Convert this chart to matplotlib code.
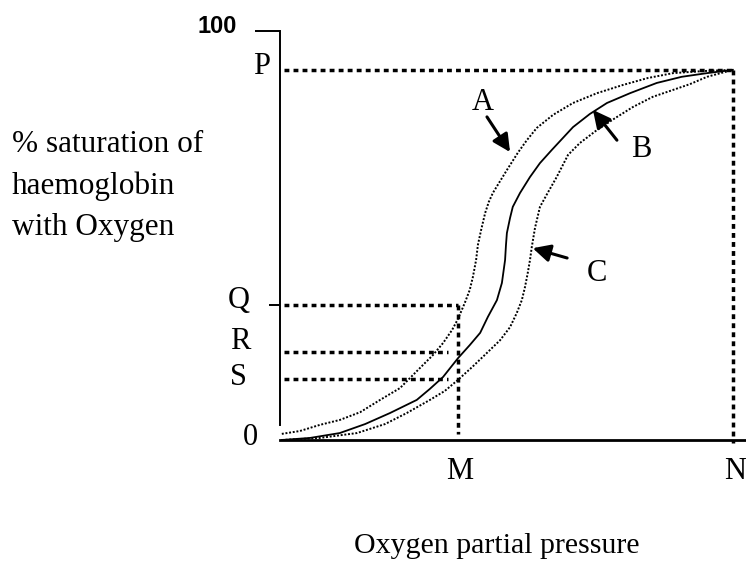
import matplotlib
matplotlib.use('Agg')
import matplotlib.pyplot as plt

# curve A (left shifted)
a_x = [0.4, 4.4, 8.8, 13.2, 17.7, 22.1, 26.5, 30.9, 33.8, 36.0, 38.0, 39.3, 40.8, 41.9, 42.6, 43.3, 43.7,
       44.4, 45.3, 46.1, 47.0, 48.6, 50.1, 52.5, 54.5, 56.7, 60.3, 64.7, 70.0, 75.7, 81.2, 86.8, 93.4, 100]
a_y = [1.5, 2.2, 3.7, 4.9, 6.8, 9.8, 12.7, 17.6, 20.8, 23.7, 26.9, 29.6, 33.5, 36.7, 39.9, 44.0, 47.7,
       51.3, 55.5, 58.2, 60.4, 63.3, 66.0, 70.2, 73.3, 76.3, 79.5, 82.4, 84.8, 86.8, 88.5, 89.7, 90.2, 90.5]

# curve B (normal)
b_x = [0.4, 6.6, 13.2, 18.8, 24.3, 30.2, 33.1, 36.0, 39.3, 41.9, 44.2, 45.9, 47.9, 49.0, 49.4, 49.7,
       49.9, 50.1, 50.8, 51.4, 53.0, 55.2, 57.4, 60.0, 64.7, 68.4, 72.2, 77.3, 83.2, 88.7, 94.3, 100]
b_y = [0.0, 0.5, 1.7, 3.9, 6.6, 9.8, 12.5, 15.4, 20.0, 23.2, 26.2, 30.1, 34.2, 38.4, 41.6, 44.0,
       47.7, 50.6, 54.3, 57.0, 60.4, 64.3, 67.7, 70.9, 76.5, 79.7, 82.4, 84.8, 87.3, 88.8, 89.7, 90.5]

# curve C (right shifted)
c_x = [0.4, 8.8, 17.0, 23.2, 28.0, 33.1, 36.4, 39.3, 42.4, 45.7, 48.6, 50.8, 52.3, 53.4, 54.1, 54.7,
       55.2, 55.6, 56.3, 57.4, 59.2, 61.1, 63.6, 66.2, 70.0, 74.0, 77.9, 82.3, 86.8, 90.5, 94.3, 100]
c_y = [0.0, 0.5, 1.7, 3.9, 6.6, 9.8, 12.0, 14.7, 17.8, 21.3, 24.4, 27.6, 31.1, 34.2, 37.4, 40.8,
       44.0, 47.2, 51.8, 57.0, 60.6, 64.3, 69.7, 72.6, 75.8, 78.7, 81.4, 83.9, 85.6, 87.0, 88.8, 90.5]

# reference levels
P = 90.5
Q = 33.0
R = 21.5
S = 14.9
M = 39.3
N = 100
RS_END = 37.1

serif = 'Liberation Serif'
fs = 22

fig = plt.figure(figsize=(7.46, 5.69), dpi=100)
ax = fig.add_axes([280/746, 129/569, 466/746, 409/569])
ax.set_xlim(0, 102.9)
ax.set_ylim(0, 100)

# axes look
ax.spines['top'].set_visible(False)
ax.spines['right'].set_visible(False)
ax.spines['left'].set_linewidth(1.4)
ax.spines['bottom'].set_linewidth(2.0)
ax.spines['left'].set_bounds(3.7, 100)
ax.set_xticks([])
ax.set_yticks([100])
ax.set_yticklabels([''])
ax.set_yticks([Q], minor=True)
ax.tick_params(axis='y', which='major', length=18, width=1.4, direction='out')
ax.tick_params(axis='y', which='minor', length=8, width=1.4, direction='out')

# thick dotted guide lines
thick = dict(color='black', lw=2.5, linestyle=(0, (1.4, 1.2)), dash_capstyle='butt', clip_on=False)
ax.plot([0.8, N], [P, P], **thick)
ax.plot([N, N], [P, -0.8], **thick)
ax.plot([0.8, M], [Q, Q], **thick)
ax.plot([M, M], [Q, 1.5], **thick)
ax.plot([0.8, RS_END], [R, R], **thick)
ax.plot([0.8, RS_END], [S, S], **thick)

# the three curves
fine = dict(color='black', lw=1.4, linestyle=(0, (1, 0.9)), solid_joinstyle='round')
ax.plot(a_x, a_y, **fine)
ax.plot(b_x, b_y, color='black', lw=1.3, solid_joinstyle='round')
ax.plot(c_x, c_y, **fine)

# arrows + curve labels
arr = dict(arrowstyle='-|>,head_length=0.7,head_width=0.35', mutation_scale=15, lw=2.2,
           color='black', shrinkA=0, shrinkB=0)
ax.annotate('', xy=(50.8, 70.4), xytext=(45.7, 79.0), arrowprops=arr)
ax.annotate('', xy=(69.1, 80.7), xytext=(74.4, 73.3), arrowprops=arr)
ax.annotate('', xy=(55.8, 46.9), xytext=(63.4, 44.5), arrowprops=arr)
ax.text(44.8, 82.6, 'A', fontsize=fs, family=serif, ha='center', va='center')
ax.text(79.7, 71.1, 'B', fontsize=fs, family=serif, ha='center', va='center')
ax.text(70.0, 40.8, 'C', fontsize=fs, family=serif, ha='center', va='center')

# letters on the axes
ax.text(-4.0, 91.2, 'P', fontsize=fs, family=serif, ha='center', va='center', clip_on=False)
ax.text(-9.1, 34.0, 'Q', fontsize=fs, family=serif, ha='center', va='center', clip_on=False)
ax.text(-8.8, 24.2, 'R', fontsize=fs, family=serif, ha='center', va='center', clip_on=False)
ax.text(-9.1, 15.2, 'S', fontsize=fs, family=serif, ha='center', va='center', clip_on=False)
ax.text(-6.6, 0.7, '0', fontsize=fs, family=serif, ha='center', va='center', clip_on=False)
ax.text(39.7, -7.8, 'M', fontsize=fs, family=serif, ha='center', va='center', clip_on=False)
ax.text(100.5, -7.6, 'N', fontsize=fs, family=serif, ha='center', va='center', clip_on=False)
ax.text(-9.5, 101.2, '100', fontsize=17, family='Liberation Sans', fontweight='bold',
        ha='right', va='center', clip_on=False)

# axis titles
fig.text(12/746, 1 - 186/569, '% saturation of\nhaemoglobin\nwith Oxygen', fontsize=22.5,
         family=serif, ha='left', va='center', linespacing=1.55)
fig.text(497/746, 1 - 546/569, 'Oxygen partial pressure', fontsize=21.5, family=serif,
         ha='center', va='center')

fig.savefig('out.png', dpi=100)
